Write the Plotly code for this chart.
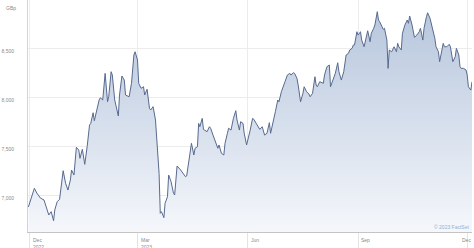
import plotly.graph_objects as go

dates = [
"2022-11-30","2022-12-02","2022-12-05","2022-12-07","2022-12-10","2022-12-13","2022-12-15","2022-12-17","2022-12-19","2022-12-21",
"2022-12-22","2022-12-24","2022-12-26","2022-12-29","2022-12-31","2023-01-02","2023-01-04","2023-01-05","2023-01-07","2023-01-09",
"2023-01-11","2023-01-12","2023-01-14","2023-01-16","2023-01-18","2023-01-20","2023-01-21","2023-01-23","2023-01-24","2023-01-26",
"2023-01-28","2023-01-29","2023-01-31","2023-02-02","2023-02-04","2023-02-05","2023-02-07","2023-02-08","2023-02-10","2023-02-13",
"2023-02-14","2023-02-16","2023-02-18","2023-02-19","2023-02-22","2023-02-24","2023-02-26","2023-02-27","2023-03-01","2023-03-02",
"2023-03-04","2023-03-06","2023-03-07","2023-03-09","2023-03-11","2023-03-12","2023-03-14","2023-03-16","2023-03-17","2023-03-19",
"2023-03-20","2023-03-21","2023-03-23","2023-03-24","2023-03-26","2023-03-27","2023-03-29","2023-03-31","2023-04-01","2023-04-03",
"2023-04-06","2023-04-08","2023-04-10","2023-04-11","2023-04-13","2023-04-15","2023-04-17","2023-04-18","2023-04-20","2023-04-21",
"2023-04-22","2023-04-24","2023-04-25","2023-04-27","2023-04-28","2023-04-30","2023-05-01","2023-05-03","2023-05-05","2023-05-07",
"2023-05-08","2023-05-10","2023-05-12","2023-05-13","2023-05-15","2023-05-16","2023-05-18","2023-05-20","2023-05-22","2023-05-23",
"2023-05-25","2023-05-26","2023-05-28","2023-05-29","2023-05-31","2023-06-02","2023-06-03","2023-06-05","2023-06-06","2023-06-08",
"2023-06-10","2023-06-11","2023-06-13","2023-06-14","2023-06-15","2023-06-17","2023-06-19","2023-06-20","2023-06-22","2023-06-24",
"2023-06-26","2023-06-27","2023-06-29","2023-07-01","2023-07-02","2023-07-04","2023-07-06","2023-07-07","2023-07-09","2023-07-10",
"2023-07-12","2023-07-13","2023-07-15","2023-07-17","2023-07-18","2023-07-20","2023-07-22","2023-07-23","2023-07-25","2023-07-27",
"2023-07-28","2023-07-29","2023-07-31","2023-08-03","2023-08-04","2023-08-06","2023-08-08","2023-08-09","2023-08-11","2023-08-13",
"2023-08-15","2023-08-16","2023-08-18","2023-08-20","2023-08-22","2023-08-24","2023-08-25","2023-08-27","2023-08-28","2023-08-29",
"2023-08-31","2023-09-01","2023-09-03","2023-09-04","2023-09-06","2023-09-08","2023-09-09","2023-09-11","2023-09-12","2023-09-14",
"2023-09-15","2023-09-17","2023-09-18","2023-09-19","2023-09-21","2023-09-22","2023-09-23","2023-09-25","2023-09-26","2023-09-27",
"2023-09-29","2023-10-01","2023-10-03","2023-10-04","2023-10-05","2023-10-07","2023-10-08","2023-10-10","2023-10-12","2023-10-13",
"2023-10-14","2023-10-16","2023-10-18","2023-10-20","2023-10-22","2023-10-23","2023-10-25","2023-10-26","2023-10-28","2023-10-29",
"2023-10-31","2023-11-02","2023-11-04","2023-11-05","2023-11-07","2023-11-08","2023-11-10","2023-11-11","2023-11-12","2023-11-14",
"2023-11-16","2023-11-17","2023-11-19","2023-11-21","2023-11-22","2023-11-24","2023-11-25","2023-11-26","2023-11-28","2023-11-30",
"2023-12-01","2023-12-02","2023-12-04","2023-12-05",
]

prices = [
6885,6955,7075,7027,6976,6956,6887,6803,6837,6745,
6854,6938,6963,7254,7126,7057,7159,7261,7210,7492,
7465,7380,7472,7319,7498,7719,7736,7844,7763,7872,
7974,7997,7974,8245,7956,8007,8262,8228,7974,7811,
8025,8218,8177,8025,8007,8144,8432,8465,8381,8144,
8093,8109,8025,8083,7889,7872,7906,7770,7566,7227,
6820,6837,6776,6922,6989,7210,7142,7024,7007,7302,
7261,7227,7193,7200,7346,7533,7414,7482,7498,7736,
7702,7787,7675,7661,7651,7702,7686,7617,7549,7482,
7516,7431,7414,7533,7635,7686,7668,7787,7865,7770,
7668,7753,7736,7635,7516,7600,7668,7787,7777,7736,
7686,7675,7702,7641,7617,7635,7743,7635,7736,7855,
7974,7956,8058,8144,8160,8228,8245,8228,8252,8245,
8195,8126,7956,8042,8109,8058,8035,8007,8042,8211,
8126,8109,8160,8144,8228,8313,8330,8109,8177,8245,
8353,8262,8177,8262,8432,8449,8483,8500,8534,8534,
8669,8635,8669,8584,8516,8653,8679,8567,8653,8704,
8737,8873,8788,8771,8720,8693,8704,8584,8296,8483,
8465,8516,8465,8551,8516,8483,8653,8737,8788,8755,
8829,8737,8612,8635,8669,8704,8584,8704,8822,8862,
8805,8704,8602,8516,8465,8364,8516,8551,8516,8516,
8541,8516,8364,8414,8500,8432,8313,8296,8296,8279,
8228,8109,8075,8160,
]

y_ticks = [7000, 7500, 8000, 8500]
y_tick_labels = ["7,000", "7,500", "8,000", "8,500"]
x_ticks = ["2022-12-01", "2023-03-01", "2023-06-01", "2023-09-01", "2023-12-01"]
x_tick_labels = ["Dec<br>2022", "Mar<br>2023", "Jun", "Sep", "Dec"]
unit_label = "GBp"
credit = "© 2023 FactSet"

label_font = dict(family="Arial, Liberation Sans, sans-serif", size=5, color="#8a8a8a")

fig = go.Figure()
fig.add_trace(go.Scatter(
    x=dates, y=prices, mode="lines",
    line=dict(color="#586a8e", width=1),
    fill="tozeroy",
    fillgradient=dict(type="vertical",
                      colorscale=[[0, "#f5f7fb"], [0.5, "#d5deec"], [1, "#b7c6dc"]],
                      start=6630, stop=8900),
    hoverinfo="skip",
))

annotations = [
    dict(text=unit_label, xref="paper", yref="paper", x=-0.053, y=0.965,
         xanchor="left", yanchor="middle", showarrow=False, font=label_font),
    dict(text=credit, xref="paper", yref="paper", x=0.998, y=0.02,
         xanchor="right", yanchor="middle", showarrow=False,
         font=dict(family=label_font["family"], size=5, color="#8fb0d8")),
]
for i, (tv, tt) in enumerate(zip(x_ticks, x_tick_labels)):
    last = i == len(x_ticks) - 1
    annotations.append(dict(
        text=tt, x=tv, xref="x", y=-0.012, yref="paper",
        xanchor="center" if last else "left", yanchor="top",
        xshift=-1 if last else 1,
        align="left", showarrow=False, font=label_font,
    ))

fig.update_layout(
    width=474, height=248,
    margin=dict(l=28, r=2, t=0, b=16),
    paper_bgcolor="white", plot_bgcolor="white",
    showlegend=False,
    font=label_font,
    xaxis=dict(
        type="date",
        range=["2022-11-29 16:00", "2023-12-05"],
        tickvals=x_ticks, showticklabels=False,
        showgrid=True, gridcolor="#ececec", gridwidth=1,
        showline=True, linecolor="#c4c4c4", linewidth=1,
        ticks="outside", ticklen=15, tickcolor="#e4e4e4", tickwidth=1,
        zeroline=False,
    ),
    yaxis=dict(
        range=[6630, 8992],
        tickvals=y_ticks, ticktext=y_tick_labels,
        showgrid=True, gridcolor="#ececec", gridwidth=1,
        showline=True, linecolor="#d4d4d4", linewidth=1,
        ticks="", ticklabelstandoff=12, ticklabelshift=3,
        tickfont=label_font,
        zeroline=False,
    ),
    annotations=annotations,
)

fig.write_html("out.html")
